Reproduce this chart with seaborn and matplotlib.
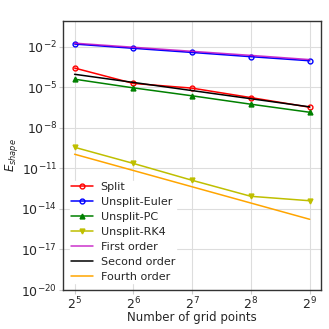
import numpy as np
import pandas as pd
import seaborn as sns
import matplotlib
matplotlib.use('Agg')
import matplotlib.pyplot as plt

# grid sizes
n_points = [32, 64, 128, 256, 512]

# measured shape errors
split = [2.6e-4, 1.9e-5, 8.5e-6, 1.7e-6, 3.3e-7]
unsplit_euler = [1.55e-2, 7.5e-3, 3.7e-3, 1.8e-3, 9.0e-4]
unsplit_pc = [3.9e-5, 8.9e-6, 2.3e-6, 5.5e-7, 1.4e-7]
unsplit_rk4 = [3.6e-10, 2.3e-11, 1.3e-12, 8.5e-14, 4.0e-14]

# reference slopes
first_order = [1.8e-2, 9.0e-3, 4.5e-3, 2.25e-3, 1.1e-3]
second_order = [9.0e-5, 2.25e-5, 5.6e-6, 1.4e-6, 3.5e-7]
fourth_order = [1.1e-10, 6.9e-12, 4.3e-13, 2.7e-14, 1.7e-15]

sns.set_style('whitegrid', {'axes.edgecolor': '#333333', 'grid.color': '#dddddd',
                            'xtick.bottom': True, 'ytick.left': True})
plt.rcParams['font.family'] = ['DejaVu Sans']

fig = plt.figure(figsize=(3.29, 3.29), dpi=100)
ax = fig.add_axes([0.191, 0.1185, 0.786, 0.818])

series = [
    ('Split', split, 'r', 'o', 'none'),
    ('Unsplit-Euler', unsplit_euler, 'b', 'o', 'none'),
    ('Unsplit-PC', unsplit_pc, 'g', '^', None),
    ('Unsplit-RK4', unsplit_rk4, 'y', 'v', None),
]
for name, vals, col, mk, mfc in series:
    df = pd.DataFrame({'n': n_points, 'err': vals})
    kw = dict(markerfacecolor=mfc) if mfc else {}
    sns.lineplot(data=df, x='n', y='err', ax=ax, color=col, marker=mk,
                 markersize=3.5, markeredgewidth=1, linewidth=1.1,
                 markeredgecolor=col, label=name, **kw)

refs = [
    ('First order', first_order, 'm'),
    ('Second order', second_order, 'k'),
    ('Fourth order', fourth_order, 'orange'),
]
for name, vals, col in refs:
    df = pd.DataFrame({'n': n_points, 'err': vals})
    sns.lineplot(data=df, x='n', y='err', ax=ax, color=col, linewidth=1.1,
                 label=name, alpha=0.8 if col == 'm' else 1)

ax.set_xscale('log', base=2)
ax.set_yscale('log')
ax.set_xticks(n_points)
ax.set_xticklabels([r'$2^{%d}$' % int(np.log2(n)) for n in n_points])
ax.set_yticks([10.0 ** e for e in range(-20, 0, 3)])
ax.minorticks_off()
ax.set_ylim(1e-20, 0.8)
ax.tick_params(axis='both', labelsize=9, length=3, color='#cccccc', pad=1)
ax.set_xlabel('Number of grid points', fontsize=8.5, labelpad=-1)
ax.set_ylabel(r'$E_{shape}$', fontsize=8.5, labelpad=1)
for sp in ax.spines.values():
    sp.set_linewidth(1)

leg = ax.legend(loc='lower left', fontsize=8, frameon=True, framealpha=1,
                edgecolor='white', borderpad=0.1, borderaxespad=0.6,
                handlelength=2.0, handletextpad=0.7, labelspacing=0.45)
# keep the legend box above the grid but under the data lines
leg.set_zorder(1.5)

fig.savefig('out.png', dpi=100)
